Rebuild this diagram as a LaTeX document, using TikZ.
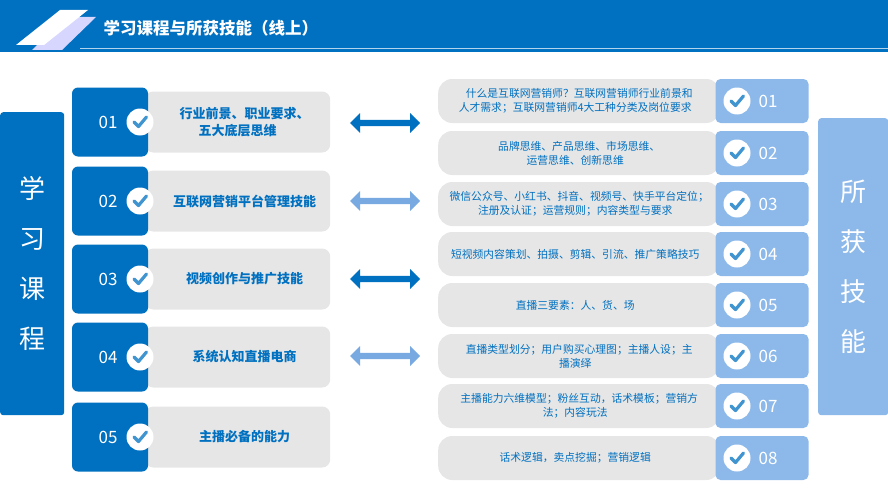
\documentclass[tikz,border=0pt]{standalone}
\usepackage{fontspec}
\setmainfont{Noto Sans CJK SC}
\usetikzlibrary{arrows.meta,positioning,shapes.arrows}
\definecolor{mainblue}{RGB}{0,112,192}
\definecolor{lightblue}{RGB}{141,185,234}
\definecolor{arrowlight}{RGB}{120,170,225}
\definecolor{boxgray}{RGB}{230,230,230}
\tikzset{
  numbox/.style={fill=mainblue, rounded corners=6pt, minimum width=76pt, minimum height=69pt},
  coursebox/.style={fill=boxgray, rounded corners=8pt, minimum width=185pt, minimum height=61pt,
    text=mainblue, font=\bfseries\fontsize{13}{17}\selectfont, align=center},
  skillbox/.style={fill=boxgray, rounded corners=14pt, minimum width=282pt, minimum height=44pt,
    text=mainblue, font=\fontsize{10.8}{14}\selectfont, align=center},
  tagbox/.style={fill=lightblue, rounded corners=5pt, minimum width=93pt, minimum height=44pt},
  checkmark/.style={circle, fill=white, minimum size=27pt, inner sep=0pt},
  numtext/.style={text=white, font=\fontsize{17}{19}\selectfont},
  dblarrow/.style={double arrow, double arrow head extend=5pt, minimum width=20pt,
    minimum height=70pt, inner sep=2pt}
}
\newcommand{\tick}[1]{%
  \node[checkmark] (#1) {};
  \draw[line width=3.2pt, line cap=round, line join=round, mainblue!75]
    ([shift={(-6pt,0pt)}]#1.center) -- ([shift={(-1.5pt,-4.5pt)}]#1.center) -- ([shift={(6.5pt,5pt)}]#1.center);}
\begin{document}
\begin{tikzpicture}[x=1pt,y=-1pt]
  \useasboundingbox (0,0) rectangle (888,495);
  % header
  \fill[mainblue] (0,0) rectangle (888,52);
  \fill[white!60!blue!40] (32,50) -- (66,17) -- (96,17) -- (62,50) -- cycle;
  \fill[white] (16,45) -- (60,10) -- (88,10) -- (44,45) -- cycle;
  \draw[white!70!mainblue, line width=0.6pt] (80,48) -- (888,48);
  \node[text=white, font=\bfseries\fontsize{16.5}{18}\selectfont, anchor=west] (title) at (100,28) {学习课程与所获技能（线上）};
  % side panels
  \node[fill=mainblue, rounded corners=3pt, minimum width=64pt, minimum height=303pt, anchor=north west,
    text=white, font=\fontsize{26}{50}\selectfont, align=center] (learn) at (0,112) {学\\习\\课\\程};
  \node[fill=lightblue, rounded corners=3pt, minimum width=70pt, minimum height=297pt, anchor=north west,
    text=white, font=\fontsize{26}{50}\selectfont, align=center] (gain) at (818,118) {所\\获\\技\\能};
  % courses
  \foreach \n/\y/\t in {01/122/{行业前景、职业要求、\\五大底层思维},
                        02/201/互联网营销平台管理技能,
                        03/279/视频创作与推广技能,
                        04/357/系统认知直播电商,
                        05/437/主播必备的能力} {
    \node[coursebox, anchor=west] (c\n) at (145,\y) {\hspace*{14pt}\t};
    \node[numbox] (n\n) at (110,\y) {};
    \node[numtext] at (108,\y) {\n};
    \begin{scope}[shift={(140,\y)}]
      \tick{k\n}
    \end{scope}
  }
  % arrows
  \foreach \y/\c in {123/mainblue, 201/arrowlight, 279/mainblue, 356/arrowlight}
    \node[dblarrow, fill=\c] (a\y) at (385,\y) {};
  % skills
  \foreach \n/\y/\t in {01/101/{什么是互联网营销师？互联网营销师行业前景和\\人才需求；互联网营销师4大工种分类及岗位要求},
                        02/153/{品牌思维、产品思维、市场思维、\\运营思维、创新思维},
                        03/204/{微信公众号、小红书、抖音、视频号、快手平台定位；\\注册及认证；运营规则；内容类型与要求},
                        04/254/短视频内容策划、拍摄、剪辑、引流、推广策略技巧,
                        05/305/直播三要素：人、货、场,
                        06/356/{直播类型划分；用户购买心理图；主播人设；主\\播演绎},
                        07/406/{主播能力六维模型；粉丝互动，话术模板；营销方\\法；内容玩法},
                        08/458/话术逻辑，卖点挖掘；营销逻辑} {
    \node[skillbox, anchor=west] (s\n) at (438,\y) {\t\hspace*{8pt}};
    \node[tagbox] (g\n) at (762,\y) {};
    \node[numtext] at (768,\y) {\n};
    \begin{scope}[shift={(737,\y)}]
      \tick{m\n}
    \end{scope}
  }
\end{tikzpicture}
\end{document}
